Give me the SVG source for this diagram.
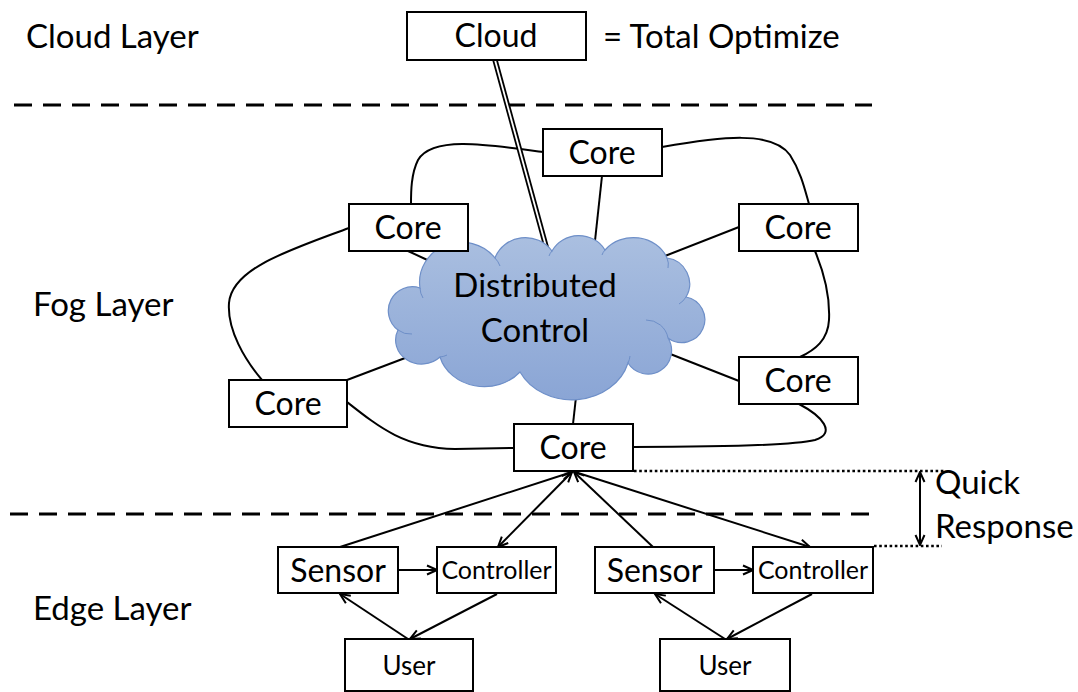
<svg xmlns="http://www.w3.org/2000/svg" width="1078" height="692" viewBox="0 0 1078 692">
  <style>
    .lbl { font-family: Lato, "Open Sans", "DejaVu Sans", sans-serif; fill: #000; }
    .big { font-size: 32px; }
    .mid { font-size: 33px; }
    .sm { font-size: 25px; }
    .usr { font-size: 26px; }
    .box { fill: #fff; stroke: #000; stroke-width: 2; }
    .link { fill: none; stroke: #000; stroke-width: 2; }
    .sep { fill: none; stroke: #000; stroke-width: 3; stroke-dasharray: 18 11; }
    .dot { fill: none; stroke: #000; stroke-width: 2.6; stroke-dasharray: 2.6 2.6; }
  </style>
  <defs>
    <marker id="arr" viewBox="0 0 12 12" refX="11" refY="6" markerWidth="12" markerHeight="12" markerUnits="userSpaceOnUse" orient="auto-start-reverse">
      <path d="M1,1.5 L11,6 L1,10.5" fill="none" stroke="#000" stroke-width="2"/>
    </marker>
    <linearGradient id="cloudFill" x1="0" y1="0" x2="0" y2="1">
      <stop offset="0" stop-color="#aabfe0"/>
      <stop offset="1" stop-color="#8aa5d5"/>
    </linearGradient>
  </defs>

  <!-- layer captions -->
  <g id="layer-labels">
    <text class="lbl mid" x="26" y="48">Cloud Layer</text>
    <text class="lbl mid" x="33" y="316">Fog Layer</text>
    <text class="lbl mid" x="33" y="620">Edge Layer</text>
  </g>

  <!-- layer separators -->
  <g id="separators">
    <line class="sep" x1="14" y1="105" x2="872" y2="105"/>
    <line class="sep" x1="10" y1="514" x2="872" y2="514"/>
  </g>

  <!-- connectors -->
  <g id="connectors">
    <!-- core ring -->
    <path class="link" d="M543,152 C485,144 432,136 418,160 C411,174 411,192 411,204"/>
    <path class="link" d="M662,147 C720,137 772,130 790,155 C801,172 805,190 809,204"/>
    <path class="link" d="M349,228 C290,250 232,268 229,303 C227,330 245,360 262,380"/>
    <path class="link" d="M815,251 C825,275 830,300 829,320 C828,340 815,350 800,357"/>
    <path class="link" d="M347,402 C380,428 405,448 455,449 L514,448"/>
    <path class="link" d="M633,447 C700,447 790,446 815,440 C837,433 822,416 799,404"/>
    <!-- cores to distributed control -->
    <line class="link" x1="602" y1="176" x2="594" y2="250"/>
    <line class="link" x1="408" y1="251" x2="436" y2="264"/>
    <line class="link" x1="739" y1="227" x2="665" y2="256"/>
    <line class="link" x1="739" y1="381" x2="655" y2="348"/>
    <line class="link" x1="347" y1="380" x2="413" y2="355"/>
    <line class="link" x1="573" y1="424" x2="579" y2="370"/>
    <!-- cloud to distributed control (double line) -->
    <line x1="495" y1="60" x2="547" y2="250" stroke="#000" stroke-width="5.4"/>
    <line x1="495" y1="60" x2="547" y2="250" stroke="#fff" stroke-width="1.8"/>
    <!-- edge links -->
    <line class="link" x1="340" y1="547" x2="572" y2="472" marker-end="url(#arr)"/>
    <line class="link" x1="498" y1="547" x2="572" y2="472" marker-start="url(#arr)" marker-end="url(#arr)"/>
    <line class="link" x1="653" y1="547" x2="574" y2="472" marker-end="url(#arr)"/>
    <line class="link" x1="575" y1="472" x2="810" y2="547" marker-end="url(#arr)"/>
    <line class="link" x1="398" y1="570" x2="437" y2="570" marker-end="url(#arr)"/>
    <line class="link" x1="408" y1="639" x2="340" y2="594" marker-end="url(#arr)"/>
    <line class="link" x1="497" y1="594" x2="410" y2="639" marker-end="url(#arr)"/>
    <line class="link" x1="714" y1="570" x2="753" y2="570" marker-end="url(#arr)"/>
    <line class="link" x1="725" y1="639" x2="655" y2="594" marker-end="url(#arr)"/>
    <line class="link" x1="812" y1="594" x2="727" y2="639" marker-end="url(#arr)"/>
    <!-- response time span -->
    <line class="dot" x1="634" y1="471" x2="945" y2="471"/>
    <line class="dot" x1="874" y1="546" x2="942" y2="546"/>
    <line class="link" x1="920" y1="472" x2="920" y2="545" marker-start="url(#arr)" marker-end="url(#arr)"/>
  </g>

  <!-- cloud tier -->
  <g id="cloud">
    <rect class="box" x="407" y="12" width="179" height="48"/>
    <text class="lbl big" x="496" y="47" text-anchor="middle">Cloud</text>
  </g>
  <g id="optimize-note">
    <text class="lbl mid" x="603" y="48">= Total Optimize</text>
  </g>

  <!-- distributed control cloud -->
  <g id="distributed-control">
    <path d="M398,330 A24,24 0 0 1 420,288 A42,40 0 0 1 495,258 A32,30 0 0 1 552,251 A30,28 0 0 1 605,250 A36,32 0 0 1 667,258 A26,26 0 0 1 686,297 A23,23 0 1 1 668,338 A22,22 0 0 1 628,363 A58,50 0 0 1 520,372 A46,40 0 0 1 440,357 A26,24 0 0 1 398,330 Z" fill="url(#cloudFill)" stroke="#6e8fc8" stroke-width="1.2"/>
    <g fill="none" stroke="#6e8fc8" stroke-width="1">
      <path d="M420,288 A20,20 0 0 0 423,298"/>
      <path d="M495,258 A24,24 0 0 1 500,266"/>
      <path d="M552,251 A14,14 0 0 0 549,256"/>
      <path d="M605,250 A14,14 0 0 0 602,255"/>
      <path d="M667,258 A16,16 0 0 1 668,268"/>
      <path d="M686,297 A20,20 0 0 1 679,304"/>
      <path d="M668,338 A22,22 0 0 0 646,320"/>
      <path d="M628,363 A20,20 0 0 0 630,356"/>
      <path d="M440,357 A18,18 0 0 0 447,355"/>
      <path d="M398,330 A20,20 0 0 0 412,334"/>
    </g>
    <text class="lbl mid" x="535" y="297" text-anchor="middle">Distributed</text>
    <text class="lbl mid" x="535" y="342" text-anchor="middle">Control</text>
  </g>

  <!-- fog cores -->
  <g id="core-top">
    <rect class="box" x="543" y="129" width="119" height="47"/>
    <text class="lbl big" x="602" y="164" text-anchor="middle">Core</text>
  </g>
  <g id="core-left">
    <rect class="box" x="349" y="204" width="119" height="47"/>
    <text class="lbl big" x="408" y="239" text-anchor="middle">Core</text>
  </g>
  <g id="core-right">
    <rect class="box" x="739" y="204" width="119" height="47"/>
    <text class="lbl big" x="798" y="239" text-anchor="middle">Core</text>
  </g>
  <g id="core-lower-left">
    <rect class="box" x="229" y="380" width="118" height="47"/>
    <text class="lbl big" x="288" y="415" text-anchor="middle">Core</text>
  </g>
  <g id="core-lower-right">
    <rect class="box" x="739" y="357" width="119" height="47"/>
    <text class="lbl big" x="798" y="392" text-anchor="middle">Core</text>
  </g>
  <g id="core-bottom">
    <rect class="box" x="514" y="424" width="119" height="47"/>
    <text class="lbl big" x="573" y="459" text-anchor="middle">Core</text>
  </g>

  <!-- edge devices, left cell -->
  <g id="sensor-1">
    <rect class="box" x="278" y="547" width="120" height="46"/>
    <text class="lbl big" x="338" y="582" text-anchor="middle">Sensor</text>
  </g>
  <g id="controller-1">
    <rect class="box" x="437" y="547" width="119" height="46"/>
    <text class="lbl sm" x="496.5" y="579" text-anchor="middle">Controller</text>
  </g>
  <g id="user-1">
    <rect class="box" x="345" y="639" width="128" height="52"/>
    <text class="lbl usr" x="409" y="675" text-anchor="middle">User</text>
  </g>

  <!-- edge devices, right cell -->
  <g id="sensor-2">
    <rect class="box" x="595" y="547" width="119" height="46"/>
    <text class="lbl big" x="654.5" y="582" text-anchor="middle">Sensor</text>
  </g>
  <g id="controller-2">
    <rect class="box" x="753" y="547" width="120" height="46"/>
    <text class="lbl sm" x="813" y="579" text-anchor="middle">Controller</text>
  </g>
  <g id="user-2">
    <rect class="box" x="660" y="639" width="130" height="52"/>
    <text class="lbl usr" x="725" y="675" text-anchor="middle">User</text>
  </g>

  <!-- response annotation -->
  <g id="quick-response">
    <text class="lbl mid" x="935" y="494">Quick</text>
    <text class="lbl mid" x="935" y="538">Response</text>
  </g>
</svg>
